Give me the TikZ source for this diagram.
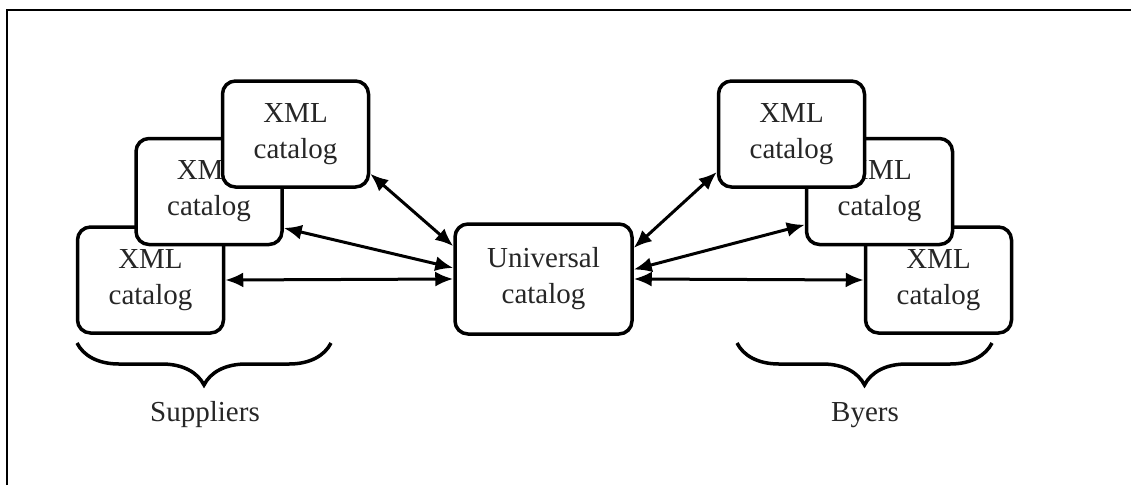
\documentclass[tikz,border=0pt]{standalone}
\usepackage{fontspec}
\setmainfont{Liberation Serif}
\usetikzlibrary{arrows.meta,decorations.pathreplacing}

\tikzset{
  catbox/.style={draw, line width=3.5pt, rounded corners=13pt, fill=white,
    minimum width=146pt, minimum height=106pt, align=center,
    text=black!85, font=\fontsize{29}{36}\selectfont},
  link/.style={line width=3pt,
    {Latex[length=18pt,width=15pt]}-{Latex[length=18pt,width=15pt]}},
  group/.style={line width=3.5pt,
    decorate, decoration={brace, mirror, amplitude=42pt}},
  grouplabel/.style={text=black!85, font=\fontsize{29}{36}\selectfont}
}

\begin{document}
\begin{tikzpicture}[x=1pt, y=-1pt]
        \useasboundingbox (0,0) rectangle (1131,485);
        \draw[line width=2.5pt] (7,485) -- (7,10) -- (1131,10);

        \node[catbox] at (150.5, 280) (C) {XML\\catalog};
        \node[catbox] at (209, 191.5) (B) {XML\\catalog};
        \node[catbox] at (295.5, 134) (A) {XML\\catalog};

        \node[catbox] at (938.5, 280) (F) {XML\\catalog};
        \node[catbox] at (879.5, 191.5) (E) {XML\\catalog};
        \node[catbox] at (791.5, 134) (D) {XML\\catalog};

        \node[catbox, minimum width=177pt, minimum height=110pt] at (543.5, 279) (U) {Universal\\catalog};

        \draw[link] (A.-28) -- (U.160);
        \draw[link] (B.-26) -- (U.173);
        \draw[link] (C.east) -- (U.west);
        \draw[link] (U.19) -- (D.-153);
        \draw[link] (U.6) -- (E.204);
        \draw[link] (U.east) -- (F.west);

        \coordinate (sl) at (77, 343);
        \coordinate (sr) at (331, 343);
        \coordinate (bl) at (737, 343);
        \coordinate (br) at (992, 343);
        \draw[group] (sl) -- (sr);
        \draw[group] (bl) -- (br);
        \node[grouplabel] at (205, 415) (supp) {Suppliers};
        \node[grouplabel] at (865, 415) (byers) {Byers};
\end{tikzpicture}
\end{document}
